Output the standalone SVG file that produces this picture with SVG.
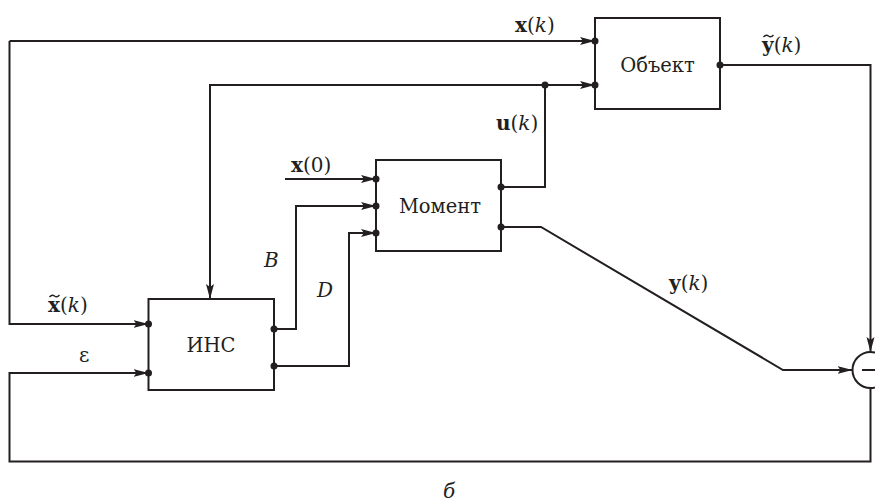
<svg xmlns="http://www.w3.org/2000/svg" width="875" height="502" viewBox="0 0 875 502">
<style>
.box{fill:#fff;stroke:#231f20;stroke-width:2}
.ln{fill:none;stroke:#231f20;stroke-width:2}
.ar{fill:none;stroke:#231f20;stroke-width:2;marker-end:url(#arr)}
.dot{fill:#231f20}
text{font-family:'DejaVu Serif','Liberation Serif',serif;fill:#231f20}
.bt{font-size:19.5px;text-anchor:middle}
.lb{font-size:20px}
.b{font-weight:bold}
.i{font-style:italic}
</style>
<defs>
<marker id="arr" markerUnits="userSpaceOnUse" markerWidth="16" markerHeight="10" refX="15" refY="5" orient="auto">
<path d="M0,1 L15,5 L0,9 L3,5 z" fill="#231f20"/>
</marker>
</defs>
<g id="connectors">
<path class="ar" d="M9.5,41 H595"/>
<path class="ar" d="M9.5,41 V324 H148.5"/>
<path class="ar" d="M501,187 H545 V85 H595"/>
<path class="ar" d="M545,85 H210 V299"/>
<path class="ar" d="M285,179 H376"/>
<path class="ar" d="M274,329 H296 V206 H376"/>
<path class="ar" d="M274,366 H349 V233 H376"/>
<path class="ar" d="M720,65 H870.5 V352"/>
<path class="ar" d="M501,227 H541 L783,370 H852.5"/>
<path class="ar" d="M870.5,388 V461.5 H9.5 V373 H148.5"/>
<circle class="dot" cx="545" cy="85" r="3.5"/>
</g>
<g id="obekt">
<rect class="box" x="595" y="18" width="125" height="91"/>
<text class="bt" x="657.5" y="72">Объект</text>
<circle class="dot" cx="595" cy="41" r="3.5"/>
<circle class="dot" cx="595" cy="85" r="3.5"/>
<circle class="dot" cx="720" cy="65" r="3.5"/>
</g>
<g id="moment">
<rect class="box" x="376" y="160" width="125" height="91"/>
<text class="bt" x="440" y="213">Момент</text>
<circle class="dot" cx="376" cy="179" r="3.5"/>
<circle class="dot" cx="376" cy="206" r="3.5"/>
<circle class="dot" cx="376" cy="233" r="3.5"/>
<circle class="dot" cx="501" cy="187" r="3.5"/>
<circle class="dot" cx="501" cy="227" r="3.5"/>
</g>
<g id="ins">
<rect class="box" x="148.5" y="299" width="125.5" height="91"/>
<text class="bt" x="211" y="352">ИНС</text>
<circle class="dot" cx="148.5" cy="324" r="3.5"/>
<circle class="dot" cx="148.5" cy="373" r="3.5"/>
<circle class="dot" cx="274" cy="329" r="3.5"/>
<circle class="dot" cx="274" cy="366" r="3.5"/>
</g>
<g id="sum">
<circle class="box" cx="870.5" cy="370" r="18"/>
<path class="ln" d="M862,370 H879"/>
</g>
<g id="labels">
<text class="lb" x="515" y="32"><tspan class="b">x</tspan>(<tspan class="i">k</tspan>)</text>
<text class="lb" x="762" y="52"><tspan class="b">y</tspan>(<tspan class="i">k</tspan>)</text>
<path class="ln" d="M763.5,37 q2.5,-3 5,-1 t5,-1" style="stroke-width:1.3"/>
<text class="lb" x="496" y="130"><tspan class="b">u</tspan>(<tspan class="i">k</tspan>)</text>
<text class="lb" x="291" y="172"><tspan class="b">x</tspan>(0)</text>
<text class="lb i" x="264" y="267">B</text>
<text class="lb i" x="317" y="297">D</text>
<text class="lb" x="669" y="290"><tspan class="b">y</tspan>(<tspan class="i">k</tspan>)</text>
<text class="lb" x="48" y="312"><tspan class="b">x</tspan>(<tspan class="i">k</tspan>)</text>
<path class="ln" d="M49.5,297 q2.5,-3 5,-1 t5,-1" style="stroke-width:1.3"/>
<text class="lb" x="79" y="362">ε</text>
<text class="lb i" x="443" y="498">б</text>
</g>
</svg>
